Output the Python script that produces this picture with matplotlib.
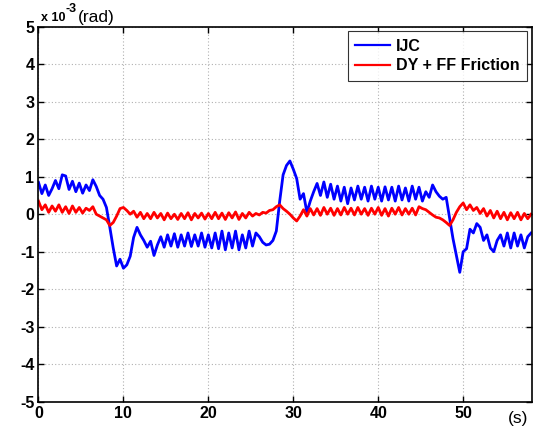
import numpy as np
import matplotlib
matplotlib.use("Agg")
import matplotlib.pyplot as plt

plt.rcParams['font.family'] = ['Liberation Sans', 'DejaVu Sans']

# time step of the read-off samples (s)
dt = 0.4

ijc = [0.85, 0.55, 0.78, 0.5, 0.68, 0.9, 0.68, 1.05, 1.02, 0.66,
       0.88, 0.6, 0.83, 0.56, 0.78, 0.63, 0.92, 0.74, 0.5, 0.4,
       0.18, -0.35, -0.9, -1.38, -1.2, -1.44, -1.35, -1.12, -0.62, -0.35,
       -0.55, -0.7, -0.88, -0.72, -1.1, -0.82, -0.6, -0.88, -0.55, -0.85,
       -0.52, -0.88, -0.55, -0.85, -0.5, -0.86, -0.55, -0.85, -0.5, -0.88,
       -0.55, -0.9, -0.5, -0.92, -0.45, -0.95, -0.5, -0.9, -0.45, -0.95,
       -0.55, -0.9, -0.45, -0.85, -0.5, -0.6, -0.75, -0.82, -0.8, -0.7,
       -0.45, 0.35, 1.05, 1.3, 1.42, 1.2, 0.95, 0.4, 0.55, 0.05,
       0.35, 0.6, 0.82, 0.5, 0.86, 0.45, 0.8, 0.4, 0.75, 0.35,
       0.72, 0.28, 0.7, 0.38, 0.75, 0.4, 0.72, 0.35, 0.75, 0.4,
       0.72, 0.35, 0.73, 0.38, 0.72, 0.35, 0.75, 0.38, 0.7, 0.35,
       0.75, 0.4, 0.72, 0.35, 0.6, 0.45, 0.78, 0.6, 0.48, 0.4,
       0.45, -0.1, -0.65, -1.1, -1.55, -1.0, -0.92, -0.4, -0.5, -0.25,
       -0.35, -0.7, -0.55, -0.9, -1.0, -0.7, -0.55, -0.85, -0.5, -0.9,
       -0.5, -0.85, -0.55, -0.9, -0.6, -0.5]

dyff = [0.35, 0.12, 0.25, 0.05, 0.22, 0.08, 0.25, 0.05, 0.2, 0.02,
        0.22, 0.05, 0.18, 0.03, 0.16, 0.1, 0.2, 0.0, -0.05, -0.1,
        -0.15, -0.3, -0.22, -0.05, 0.15, 0.18, 0.1, 0.0, 0.08, -0.08,
        0.05, -0.12, 0.02, -0.12, 0.05, -0.1, 0.02, -0.15, 0.03, -0.12,
        0.0, -0.14, 0.02, -0.12, 0.04, -0.15, 0.02, -0.1, 0.03, -0.13,
        0.02, -0.12, 0.05, -0.12, 0.03, -0.14, 0.04, -0.1, 0.06, -0.14,
        0.02, -0.1, 0.05, -0.05, 0.02, -0.02, 0.05, 0.03, 0.1, 0.12,
        0.2, 0.25, 0.15, 0.08, 0.0, -0.1, -0.18, -0.05, 0.12, -0.05,
        0.15, -0.02, 0.15, -0.03, 0.18, 0.0, 0.16, -0.03, 0.15, -0.02,
        0.18, 0.0, 0.16, -0.02, 0.18, 0.0, 0.15, -0.03, 0.16, 0.0,
        0.18, -0.03, 0.15, -0.05, 0.16, 0.0, 0.18, -0.02, 0.15, 0.0,
        0.16, -0.02, 0.2, 0.15, 0.12, 0.05, -0.02, -0.08, -0.1, -0.15,
        -0.22, -0.3, -0.15, 0.05, 0.2, 0.3, 0.12, 0.25, 0.1, 0.18,
        0.02, 0.15, -0.05, 0.1, -0.1, 0.08, -0.12, 0.05, -0.15, 0.04,
        -0.12, 0.05, -0.15, 0.02, -0.12, 0.0]

labels = ['IJC', 'DY + FF Friction']
xticks = [0, 10, 20, 30, 40, 50]
yticks = [-5, -4, -3, -2, -1, 0, 1, 2, 3, 4, 5]

t_ijc = np.arange(len(ijc)) * dt
t_dy = np.arange(len(dyff)) * dt

fig = plt.figure(figsize=(5.42, 4.28), dpi=100)
ax = fig.add_axes([0.071, 0.0614, 0.9105, 0.8762])

ax.plot(t_ijc, ijc, color='#0000ff', lw=2.0, label=labels[0])
ax.plot(t_dy, dyff, color='#ff0000', lw=2.0, label=labels[1])

ax.set_xlim(0, 58.1)
ax.set_ylim(-5, 5)
ax.set_xticks(xticks)
ax.set_yticks(yticks)
ax.set_xticklabels([str(v) for v in xticks], fontsize=11.5, fontweight='bold')
ax.set_yticklabels([str(v) for v in yticks], fontsize=11.5, fontweight='bold')
ax.tick_params(direction='in', top=True, right=True, length=4, width=1, pad=3)
ax.grid(True, color='#b0b0b0', linestyle=(0, (1, 2)), linewidth=0.8)
for s in ax.spines.values():
    s.set_linewidth(1.2)

leg = ax.legend(loc='upper right', prop={'weight': 'bold', 'size': 11.5},
                frameon=True, fancybox=False, edgecolor='black',
                handlelength=2.2, borderpad=0.45, labelspacing=0.3,
                handletextpad=0.4, borderaxespad=0.3)
leg.get_frame().set_linewidth(0.8)
for line in leg.get_lines():
    line.set_linewidth(1.6)

fig.text(0.076, 0.945, 'x 10', fontsize=9, fontweight='bold', ha='left', va='bottom')
fig.text(0.121, 0.965, '-3', fontsize=9, fontweight='bold', ha='left', va='bottom')
fig.text(0.143, 0.942, '(rad)', fontsize=12.5, ha='left', va='bottom')
fig.text(0.955, 0.022, '(s)', fontsize=12.5, ha='center', va='center')

fig.savefig('out.png', dpi=100)
